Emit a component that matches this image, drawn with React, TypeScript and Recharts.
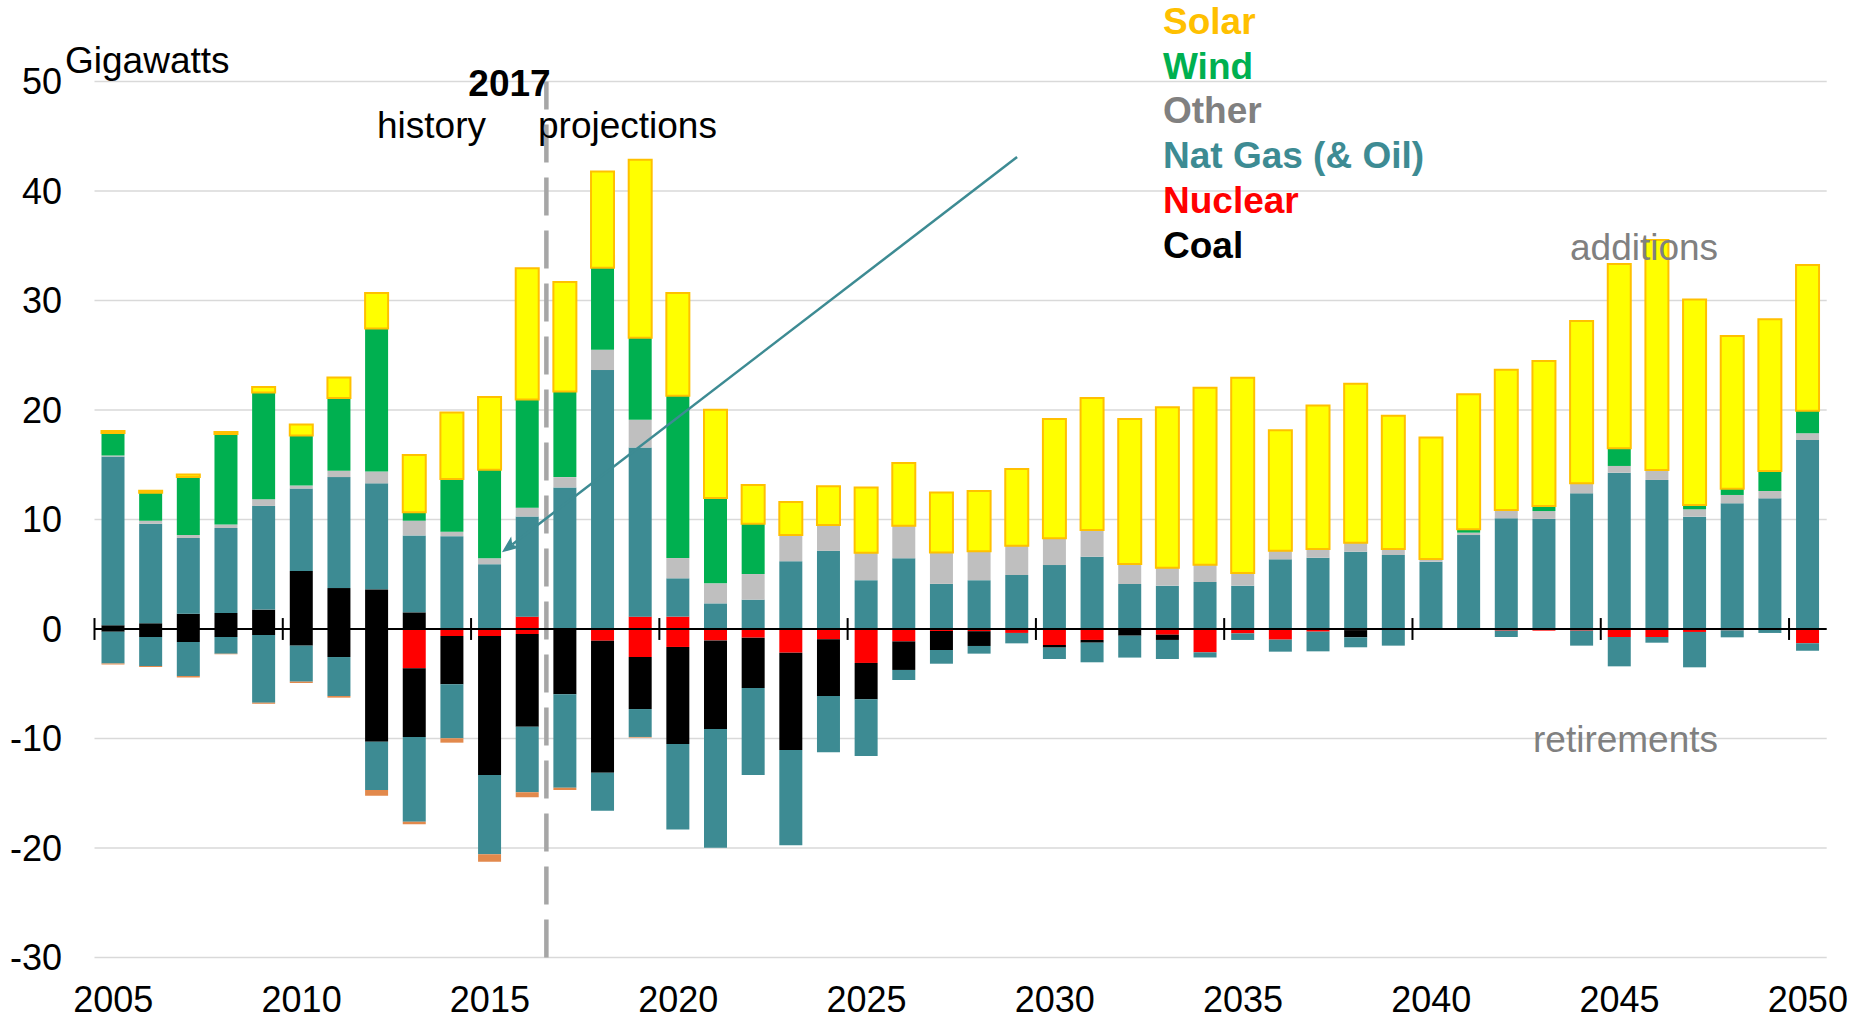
import React from 'react';
import { Bar, BarChart, CartesianGrid, ReferenceLine, XAxis, YAxis } from 'recharts';

const FONT = '"Liberation Sans", Arial, sans-serif';
const ARROW = '#3D8B93';

const years = [
  2005, 2006, 2007, 2008, 2009, 2010, 2011, 2012, 2013, 2014,
  2015, 2016, 2017, 2018, 2019, 2020, 2021, 2022, 2023, 2024,
  2025, 2026, 2027, 2028, 2029, 2030, 2031, 2032, 2033, 2034,
  2035, 2036, 2037, 2038, 2039, 2040, 2041, 2042, 2043, 2044,
  2045, 2046, 2047, 2048, 2049, 2050,
];
const labelYears = [2005, 2010, 2015, 2020, 2025, 2030, 2035, 2040, 2045, 2050];

// additions (GW)
const coalAdd = [
  0.35, 0.52, 1.4, 1.46, 1.77, 5.3, 3.74, 3.62, 1.52, 0,
  0, 0, 0, 0, 0, 0, 0, 0, 0, 0,
  0, 0, 0, 0, 0, 0, 0, 0, 0, 0,
  0, 0, 0, 0, 0, 0, 0, 0, 0, 0,
  0, 0, 0, 0, 0, 0,
];
const nuclearAdd = [
  0, 0, 0, 0, 0, 0, 0, 0, 0, 0,
  0, 1.13, 0, 0, 1.13, 1.13, 0, 0, 0, 0,
  0, 0, 0, 0, 0, 0, 0, 0, 0, 0,
  0, 0, 0, 0, 0, 0, 0, 0, 0, 0,
  0, 0, 0, 0, 0, 0,
];
const gasAdd = [
  15.4, 9.1, 6.91, 7.76, 9.47, 7.53, 10.13, 9.68, 7.02, 8.48,
  5.92, 9.14, 12.93, 23.65, 15.44, 3.5, 2.34, 2.68, 6.19, 7.14,
  4.46, 6.46, 4.12, 4.46, 4.93, 5.84, 6.6, 4.11, 3.96, 4.29,
  3.96, 6.36, 6.51, 7.06, 6.76, 6.15, 8.58, 10.11, 10.05, 12.39,
  14.28, 13.61, 10.26, 11.48, 11.93, 17.26,
];
const otherAdd = [
  0.1, 0.27, 0.27, 0.33, 0.61, 0.27, 0.58, 1.08, 1.35, 0.4,
  0.54, 0.81, 0.94, 1.85, 2.53, 1.85, 1.83, 2.34, 2.39, 2.36,
  2.5, 2.97, 2.86, 2.65, 2.68, 2.44, 2.44, 1.83, 1.64, 1.58,
  1.1, 0.79, 0.79, 0.82, 0.54, 0.24, 0.22, 0.76, 0.72, 0.85,
  0.61, 0.91, 0.67, 0.76, 0.67, 0.61,
];
const windAdd = [
  2.06, 2.56, 5.29, 8.25, 9.75, 4.58, 6.65, 13.07, 0.78, 4.82,
  8.08, 9.88, 7.83, 7.5, 7.5, 14.83, 7.8, 4.6, 0, 0,
  0, 0, 0, 0, 0, 0, 0, 0, 0, 0,
  0.05, 0, 0, 0, 0, 0, 0.3, 0, 0.46, 0.06,
  1.61, 0, 0.39, 0.57, 1.83, 2.07,
];
const solarAdd = [
  0.17, 0.17, 0.23, 0.2, 0.5, 1.0, 1.87, 3.24, 5.22, 6.07,
  6.64, 11.99, 10.0, 8.77, 16.25, 9.37, 8.05, 3.54, 3.02, 3.54,
  5.96, 5.72, 5.48, 5.5, 7.0, 10.9, 12.06, 13.24, 14.65, 16.17,
  17.84, 10.99, 13.1, 14.52, 12.18, 11.11, 12.33, 12.81, 13.24, 14.83,
  16.83, 21.0, 18.78, 13.95, 13.85, 13.3,
];

// retirements (GW)
const nuclearRet = [
  0, 0, 0, 0, 0, 0, 0, 0, -3.59, -0.64,
  -0.64, -0.46, 0, -1.07, -2.56, -1.64, -1.04, -0.79, -2.16, -0.94,
  -3.1, -1.13, -0.18, -0.2, -0.36, -1.46, -1.0, 0, -0.52, -2.13,
  -0.4, -0.97, -0.24, -0.1, 0, 0, 0, -0.15, -0.15, -0.15,
  -0.73, -0.73, -0.27, -0.12, 0, -1.31,
];
const coalRet = [
  -0.25, -0.73, -1.19, -0.73, -0.55, -1.52, -2.56, -10.29, -6.27, -4.41,
  -12.69, -8.46, -5.97, -12.05, -4.75, -8.86, -8.09, -4.6, -8.89, -5.18,
  -3.32, -2.61, -1.74, -1.35, 0, -0.24, -0.25, -0.61, -0.48, 0,
  0, 0, 0, -0.66, 0, 0, 0, 0, 0, 0,
  0, 0, 0, 0, 0, 0,
];
const gasRet = [
  -2.9, -2.65, -3.1, -1.52, -6.18, -3.29, -3.56, -4.41, -7.74, -4.93,
  -7.25, -6.0, -8.52, -3.47, -2.55, -7.8, -10.84, -7.94, -8.71, -5.14,
  -5.18, -0.92, -1.25, -0.7, -0.95, -1.04, -1.79, -2.0, -1.74, -0.47,
  -0.6, -1.1, -1.8, -0.91, -1.52, 0, 0, -0.58, 0, -1.37,
  -2.68, -0.52, -3.23, -0.64, -0.36, -0.67,
];
const otherRet = [
  -0.1, -0.08, -0.15, -0.06, -0.1, -0.12, -0.15, -0.52, -0.24, -0.4,
  -0.67, -0.45, -0.21, 0, -0.06, 0, 0, 0, 0, 0,
  0, 0, 0, 0, 0, 0, 0, 0, 0, 0,
  0, 0, 0, 0, 0, 0, 0, 0, 0, 0,
  0, 0, 0, 0, 0, 0,
];

const yTicks = [-30, -20, -10, 0, 10, 20, 30, 40, 50];
// axis tick marks sit between categories, every five years
const axisTickMarks = [2004.5, 2009.5, 2014.5, 2019.5, 2024.5, 2029.5, 2034.5, 2039.5, 2044.5, 2049.5];
const historyEdge = 2016.5;
const arrowFrom = { x: 2029.0, y: 43.1 };
const arrowTo = { x: 2015.32, y: 7.0 };

const series = [
  { key: 'coalAdd', values: coalAdd, fill: '#000000' },
  { key: 'nuclearAdd', values: nuclearAdd, fill: '#FF0000' },
  { key: 'gasAdd', values: gasAdd, fill: '#3D8B93' },
  { key: 'otherAdd', values: otherAdd, fill: '#BFBFBF' },
  { key: 'windAdd', values: windAdd, fill: '#00B050' },
  { key: 'solarAdd', values: solarAdd, fill: '#FFFF00', stroke: '#FFC000' },
  { key: 'nuclearRet', values: nuclearRet, fill: '#FF0000' },
  { key: 'coalRet', values: coalRet, fill: '#000000' },
  { key: 'gasRet', values: gasRet, fill: '#3D8B93' },
  { key: 'otherRet', values: otherRet, fill: '#E2894C' },
];

const legendItems = [
  { label: 'Solar', color: '#FFC000' },
  { label: 'Wind', color: '#00B050' },
  { label: 'Other', color: '#808080' },
  { label: 'Nat Gas (& Oil)', color: '#3D8B93' },
  { label: 'Nuclear', color: '#FF0000' },
  { label: 'Coal', color: '#000000' },
];

const data = years.map((year, i) => {
  const row: Record<string, number> = { year };
  series.forEach((s) => {
    row[s.key] = s.values[i];
  });
  return row;
});

function ArrowShape(props: any) {
  const { x1, y1, x2, y2 } = props;
  const dx = x2 - x1;
  const dy = y2 - y1;
  const len = Math.hypot(dx, dy) || 1;
  const ux = dx / len;
  const uy = dy / len;
  const headLen = 17;
  const headW = 7;
  const bx = x2 - ux * headLen;
  const by = y2 - uy * headLen;
  return (
    <g>
      <line x1={x1} y1={y1} x2={bx + ux * 4} y2={by + uy * 4} stroke={ARROW} strokeWidth={2.5} />
      <polygon
        points={`${x2},${y2} ${bx - uy * headW},${by + ux * headW} ${bx + ux * 4},${by + uy * 4} ${bx + uy * headW},${by - ux * headW}`}
        fill={ARROW}
      />
    </g>
  );
}

export default function App() {
  return (
    <div
      style={{
        position: 'absolute',
        left: 0,
        top: 0,
        width: 1856,
        height: 1020,
        overflow: 'hidden',
        background: '#fff',
        fontFamily: FONT,
      }}
    >
      <BarChart
        width={1856}
        height={1020}
        data={data}
        stackOffset="sign"
        margin={{ top: 81.5, right: 29.3, bottom: 2.5, left: 0 }}
        style={{ fontFamily: FONT }}
      >
        <CartesianGrid vertical={false} stroke="#D9D9D9" strokeWidth={1.5} />
        <XAxis
          dataKey="year"
          type="number"
          domain={[2004.5, 2050.5]}
          allowDataOverflow
          ticks={labelYears}
          interval={0}
          axisLine={false}
          tickLine={false}
          tickSize={0}
          tickMargin={29}
          height={60}
          tick={{ fill: '#000', fontSize: 36, fontFamily: FONT }}
        />
        <YAxis
          domain={[-30, 50]}
          ticks={yTicks}
          allowDataOverflow
          width={94.5}
          axisLine={false}
          tickLine={false}
          tickSize={0}
          tickMargin={32.5}
          tick={{ fill: '#000', fontSize: 36, fontFamily: FONT }}
        />
        {series.map((s) => (
          <Bar
            key={s.key}
            dataKey={s.key}
            stackId="a"
            fill={s.fill}
            stroke={s.stroke}
            strokeWidth={s.stroke ? 2 : 0}
            barSize={23}
            isAnimationActive={false}
          />
        ))}
        <ReferenceLine
          x={historyEdge}
          stroke="#A6A6A6"
          strokeWidth={4.5}
          strokeDasharray="38 15"
        />
        <ReferenceLine y={0} stroke="#000" strokeWidth={2} />
        {axisTickMarks.map((t) => (
          <ReferenceLine
            key={t}
            segment={[
              { x: t, y: -1 },
              { x: t, y: 1 },
            ]}
            stroke="#000"
            strokeWidth={2}
          />
        ))}
        <ReferenceLine segment={[arrowFrom, arrowTo]} stroke={ARROW} shape={ArrowShape} />
      </BarChart>

      <svg
        width={1856}
        height={1020}
        style={{ position: 'absolute', left: 0, top: 0, pointerEvents: 'none' }}
      >
        <g style={{ fontFamily: FONT }} fontSize={37}>
          <text x={65} y={73} fill="#000">Gigawatts</text>
          <text x={509.5} y={95.5} fill="#000" fontWeight="bold" textAnchor="middle">2017</text>
          <text x={377} y={138} fill="#000">history</text>
          <text x={538} y={138} fill="#000">projections</text>
          <text x={1570} y={260} fill="#808080">additions</text>
          <text x={1533} y={752} fill="#808080">retirements</text>
        </g>
      </svg>

      <div style={{ position: 'absolute', left: 1163, top: 0 }}>
        {legendItems.map((item) => (
          <div
            key={item.label}
            style={{
              color: item.color,
              fontWeight: 'bold',
              fontSize: 37,
              lineHeight: '44.7px',
              whiteSpace: 'nowrap',
            }}
          >
            {item.label}
          </div>
        ))}
      </div>
    </div>
  );
}
